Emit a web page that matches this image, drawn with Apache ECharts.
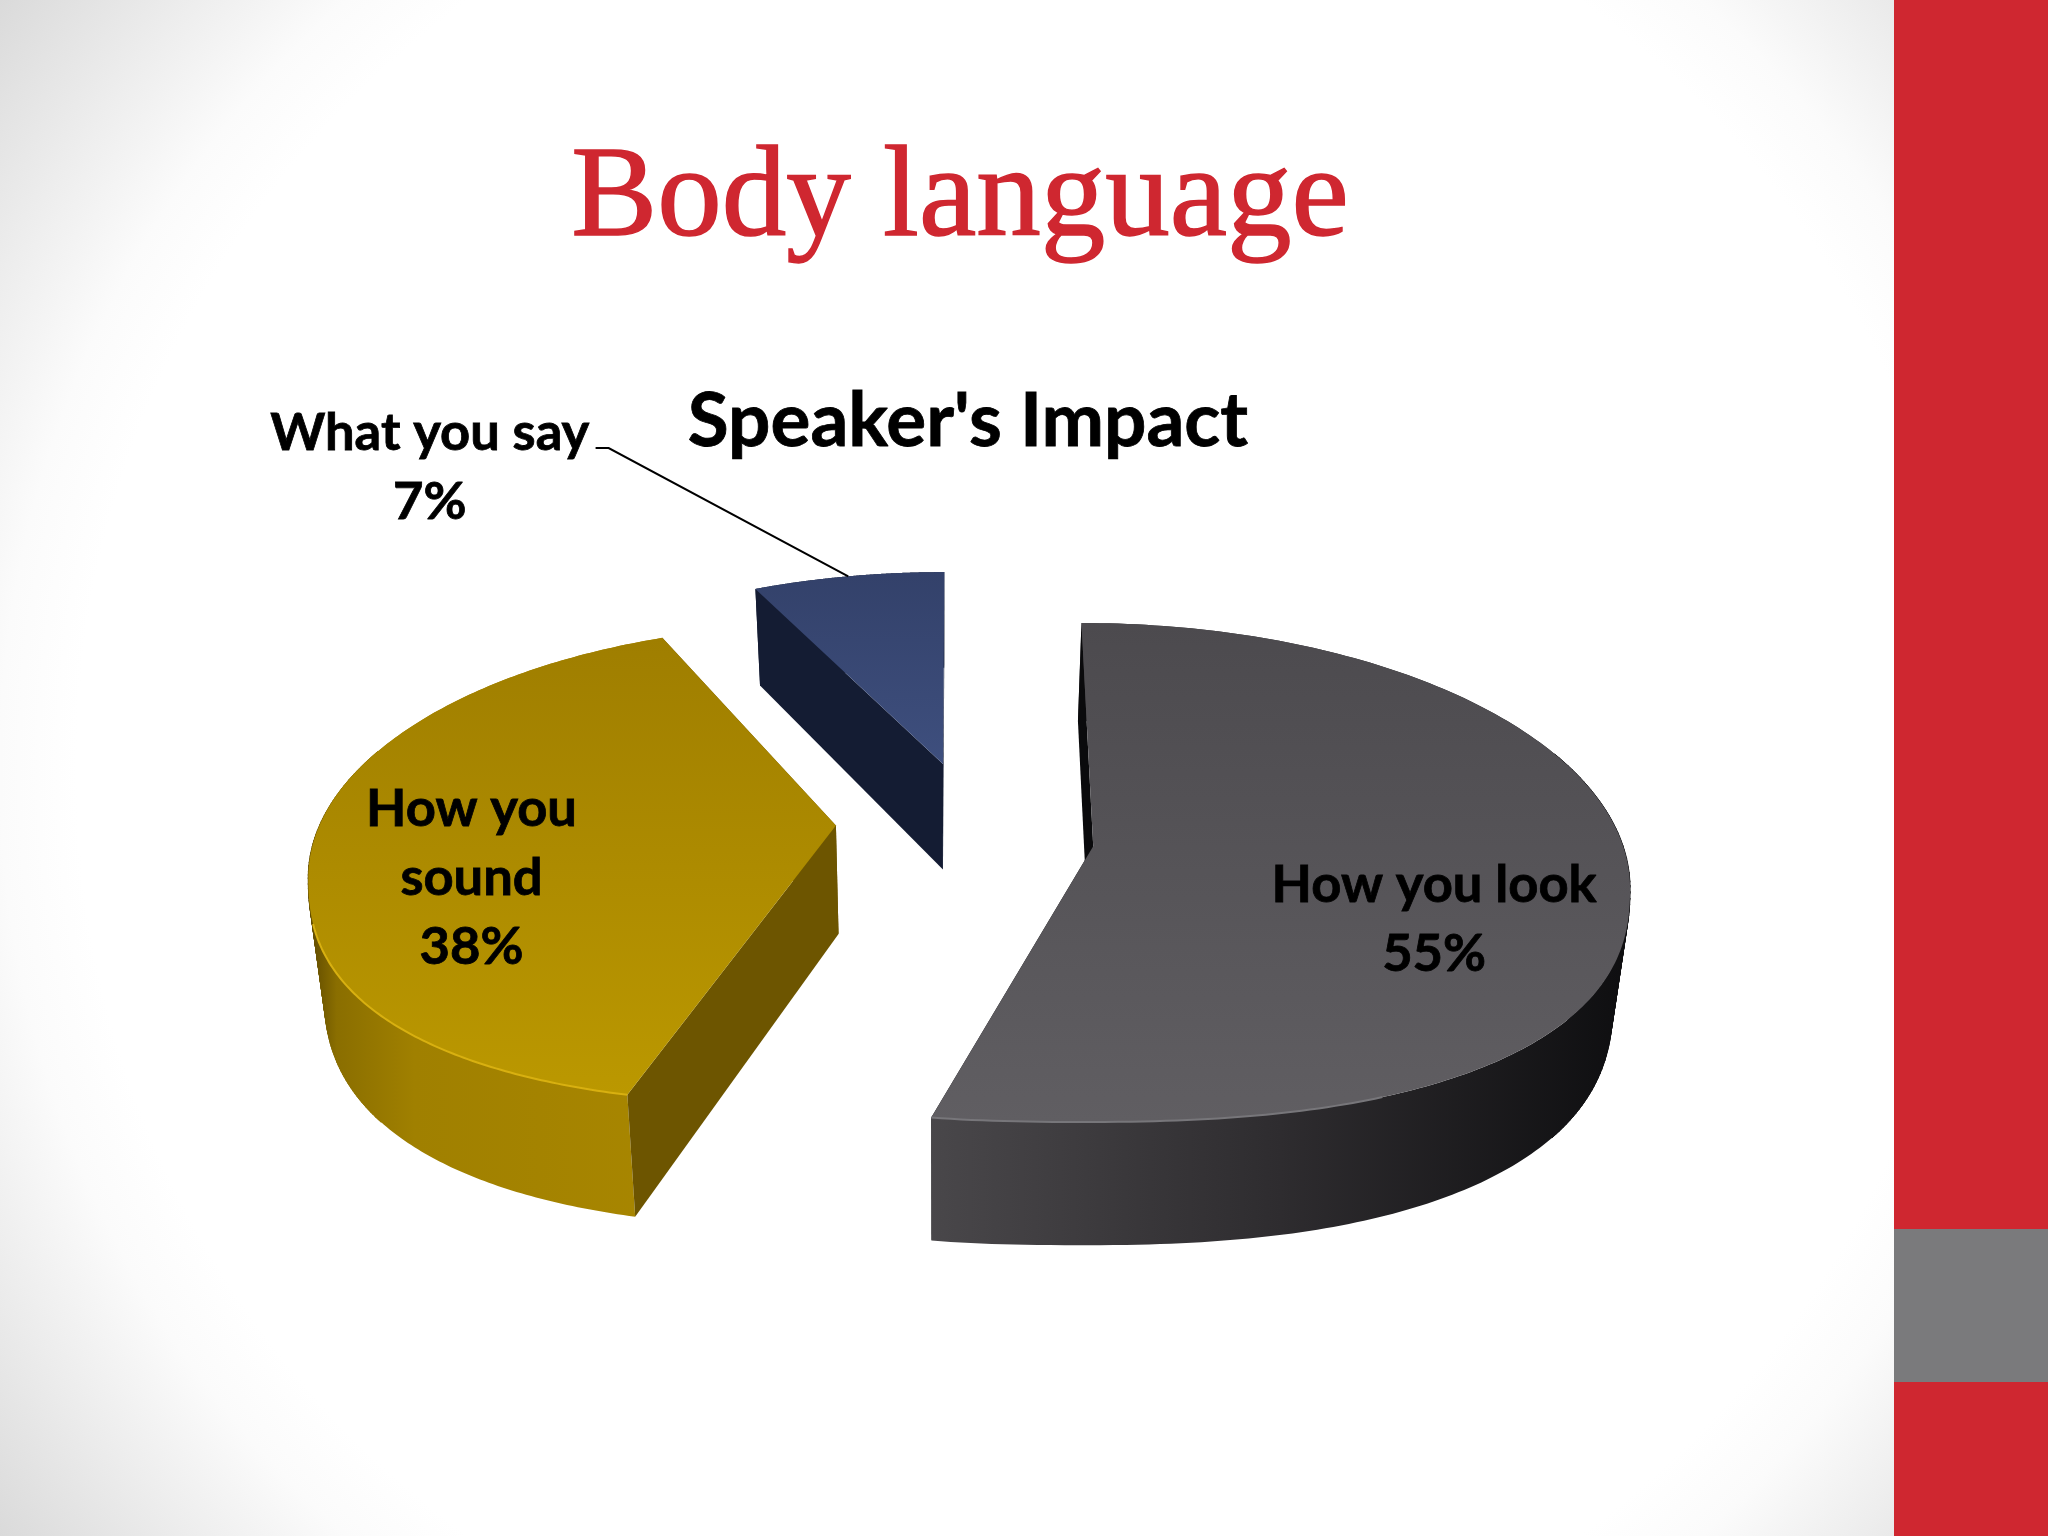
<!DOCTYPE html>
<html>
<head>
<meta charset="utf-8">
<style>html,body{margin:0;padding:0;background:#fff}#c{width:2048px;height:1536px}</style>
<script src="https://cdn.jsdelivr.net/npm/echarts@6/dist/echarts.min.js"></script>
</head>
<body>
<div id="c"></div>
<script>
// ---- data ----
var slideTitle = 'Body language';
var chartTitle = "Speaker's Impact";
var categories = ['How you look', 'How you sound', 'What you say'];
var values = [55, 38, 7];

// ---- layout and style, per slice (drawn in a 1568x1176 space, scaled by S) ----
var S = 2048 / 1568;
var ellipses = [
  {cx: 828, cy: 680, rx: 420, ru: 203, rl: 179, p: 2.4, ax: 837, ay: 648, shiftA: 0, shiftB: -5.8},
  {cx: 636, cy: 672, rx: 400, ru: 194, rl: 174, p: 2.4, ax: 640, ay: 632, shiftA: 0.8, shiftB: 6.4},
  {cx: 723, cy: 628, rx: 400, ru: 190, rl: 190, p: 2, ax: 722, ay: 585, shiftA: 4, shiftB: 0}
];
var faceColors = [['#4c4a4e', '#605e62'], ['#9f7e00', '#bb9800'], ['#33416a', '#3e4f7e']];
var rimStops = [
  [[0, '#49474a'], [0.5, '#2e2c2f'], [1, '#0e0e10']],
  [[0, '#5d4800'], [0.08, '#8a6e00'], [0.3, '#a08000'], [1, '#a88600']],
  [[0, '#141c33'], [1, '#141c33']]
];
var wallColors = ['#0a0a0c', '#6d5500', '#141c33'];
var rimLight = ['#77767a', '#d8b010', null];
var rimLightFrom = [150, 198, 0];
var rimLightTo = [193, 262, 0];
var labelBoxes = [
  {x: 1098, y: 704, wordsPerLine: 3},
  {x: 361, y: 672, wordsPerLine: 2},
  {x: 329, y: 358, wordsPerLine: 3}
];
var fontFam = 'Lato, "Noto Sans", sans-serif';
var labelSize = 52.5, lineH = 69;

function bottomOf(p) {
  return [p[0] + (720 - p[0]) * 0.025, p[1] + 74 + (p[1] - 452) * 0.05];
}
function scaled(p) { return [p[0] * S, p[1] * S]; }
function wrapWords(text, perLine) {
  var words = text.split(' '), lines = [];
  for (var w = 0; w < words.length; w += perLine) lines.push(words.slice(w, w + perLine).join(' '));
  return lines.join('\n');
}

var total = values.reduce(function (a, b) { return a + b; }, 0);

function renderSlice(params, api) {
  var i = params.dataIndex;
  var before = 0;
  for (var k = 0; k < i; k++) before += values[k];
  var e = ellipses[i];
  var a0 = before / total * 360 + e.shiftA;
  var a1 = (before + api.value(0)) / total * 360 + e.shiftB;
  var at = function (deg) {
    var t = deg * Math.PI / 180;
    var s = Math.sin(t), c = Math.cos(t);
    if (c >= 0) return [e.cx + e.rx * s, e.cy - e.ru * c];
    var q = 2 / e.p;
    return [e.cx + e.rx * (s < 0 ? -1 : 1) * Math.pow(Math.abs(s), q), e.cy + e.rl * Math.pow(-c, q)];
  };
  var arc = [];
  var n = 200;
  for (var j = 0; j <= n; j++) arc.push(at(a0 + (a1 - a0) * j / n));
  var apex = [e.ax, e.ay];
  var first = arc[0], last = arc[n];
  var xs = arc.map(function (p) { return p[0] * S; });
  var ys = arc.map(function (p) { return p[1] * S; }).concat(e.ay * S);
  var x0 = Math.min.apply(null, xs), x1 = Math.max.apply(null, xs);
  var y0 = Math.min.apply(null, ys), y1 = Math.max.apply(null, ys);

  var rimFill = {
    type: 'linear', x: x0, y: 0, x2: x1, y2: 0, global: true,
    colorStops: rimStops[i].map(function (s) { return {offset: s[0], color: s[1]}; })
  };
  var rim = arc.concat(arc.slice().reverse().map(bottomOf)).map(scaled);
  var wallA = [first, apex, bottomOf(apex), bottomOf(first)].map(scaled);
  var wallB = [last, apex, bottomOf(apex), bottomOf(last)].map(scaled);
  var face = [apex].concat(arc).map(scaled);

  var children = [
    {type: 'polygon', shape: {points: wallB}, style: {fill: wallColors[i]}},
    {type: 'polygon', shape: {points: rim}, style: {fill: rimFill}}
  ];
  // where the rim turns away at its widest, sweep it so its silhouette stays unbroken
  for (var q = 0; q < n; q++) {
    var mid = a0 + (a1 - a0) * (q + 0.5) / n;
    var sideDist = Math.abs(Math.abs(((mid % 360) + 360) % 360 - 180) - 90);
    if (sideDist > 30) continue;
    children.push({type: 'polygon',
      shape: {points: [arc[q], arc[q + 1], bottomOf(arc[q + 1]), bottomOf(arc[q])].map(scaled)},
      style: {fill: rimFill, stroke: rimFill, lineWidth: 1}});
  }
  children.push(
    {type: 'polygon', shape: {points: wallA}, style: {fill: wallColors[i]}},
    {type: 'polygon', shape: {points: face}, style: {fill: {
      type: 'linear', x: 0, y: y0, x2: 0, y2: y1, global: true,
      colorStops: [{offset: 0, color: faceColors[i][0]}, {offset: 1, color: faceColors[i][1]}]
    }}}
  );
  if (rimLight[i]) {
    var front = arc.filter(function (p, idx) {
      var d = a0 + (a1 - a0) * idx / n;
      return d >= rimLightFrom[i] && d <= rimLightTo[i];
    }).map(scaled);
    children.push({type: 'polyline', shape: {points: front},
      style: {fill: null, stroke: rimLight[i], lineWidth: 2}});
  }
  // category + percent label, built from the data
  var box = labelBoxes[i];
  children.push({type: 'text', style: {
    x: box.x * S, y: box.y * S,
    text: wrapWords(categories[i], box.wordsPerLine) + '\n' + api.value(0) + '%',
    align: 'center', verticalAlign: 'middle',
    font: 'bold ' + labelSize + 'px ' + fontFam, lineHeight: lineH, fill: '#000',
    stroke: '#000', lineWidth: 0.8
  }});
  // leader line only for the slice whose label sits outside
  if (i === 2) {
    var tip = at((a0 + a1) / 2);
    children.push({type: 'polyline', shape: {points: [[456, 343], [466, 343], tip].map(scaled)},
      style: {fill: null, stroke: '#000', lineWidth: 2}});
  }
  return {type: 'group', children: children};
}

var chart = echarts.init(document.getElementById('c'), null, {renderer: 'canvas', width: 2048, height: 1536});
chart.setOption({
  animation: false,
  title: [
    {text: slideTitle, left: 955, top: 132, textAlign: 'center',
      textStyle: {fontFamily: '"Liberation Serif", serif', fontWeight: 'normal', fontSize: 129, color: '#cf2730',
        textBorderColor: '#cf2730', textBorderWidth: 1.5}},
    {text: chartTitle, left: 963, top: 379, textAlign: 'center',
      textStyle: {fontFamily: fontFam, fontWeight: 'bold', fontSize: 74.7, color: '#000',
        textBorderColor: '#000', textBorderWidth: 0.8}}
  ],
  graphic: {elements: [
    {type: 'rect', z: -10, shape: {x: 0, y: 0, width: 1894, height: 1536}, style: {fill: {
      type: 'radial', x: 1024, y: 768, r: 1280, global: true,
      colorStops: [{offset: 0, color: '#ffffff'}, {offset: 0.74, color: '#ffffff'}, {offset: 0.8, color: '#fbfbfb'}, {offset: 0.88, color: '#eeeeee'}, {offset: 1, color: '#dadada'}]
    }}},
    {type: 'rect', z: -9, shape: {x: 1894, y: 0, width: 154, height: 1229}, style: {fill: '#cf2730'}},
    {type: 'rect', z: -9, shape: {x: 1894, y: 1229, width: 154, height: 153}, style: {fill: '#7a7a7c'}},
    {type: 'rect', z: -9, shape: {x: 1894, y: 1382, width: 154, height: 154}, style: {fill: '#cf2730'}}
  ]},
  series: [{
    type: 'custom',
    coordinateSystem: 'none',
    renderItem: renderSlice,
    data: values.map(function (v, i) { return {name: categories[i], value: [v]}; })
  }]
});
</script>
</body>
</html>
